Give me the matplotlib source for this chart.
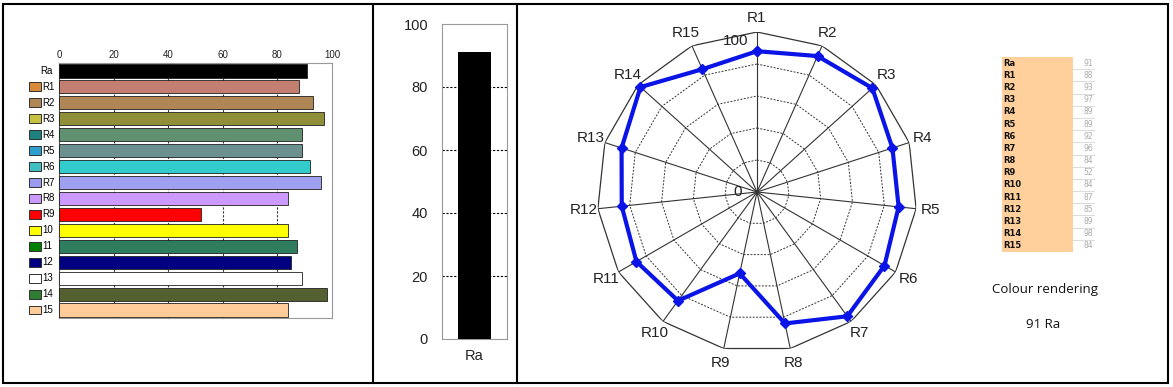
import matplotlib
matplotlib.use("Agg")
import matplotlib.pyplot as plt
import numpy as np
from matplotlib.patches import Rectangle
from matplotlib.lines import Line2D

# --- data ---
labels = ["Ra", "R1", "R2", "R3", "R4", "R5", "R6", "R7", "R8",
          "R9", "R10", "R11", "R12", "R13", "R14", "R15"]
bar_labels = ["Ra", "R1", "R2", "R3", "R4", "R5", "R6", "R7", "R8",
              "R9", "10", "11", "12", "13", "14", "15"]
values = [91, 88, 93, 97, 89, 89, 92, 96, 84, 52, 84, 87, 85, 89, 98, 84]
ra_value = 91

bar_colors = ["#000000", "#c27f70", "#b08656", "#8f8f3a", "#5f9070", "#6a9090",
              "#33cccc", "#a0a0f0", "#cc99ff", "#ff0000", "#ffff00", "#2e7d5e",
              "#000080", "#ffffff", "#556030", "#ffcc99"]
key_colors = [None, "#d9893c", "#b08656", "#c8c040", "#1f8080", "#2f9fd0",
              "#40c0c0", "#9a9af0", "#cc99ff", "#ff0000", "#ffff00", "#008000",
              "#000080", "#ffffff", "#2e7d32", "#ffcc99"]

narrow = ["Liberation Sans", "DejaVu Sans"]
W, H = 1173, 387


def box(x0, y0, x1, y1):
    # pixel box (top-left origin) -> figure fraction rect
    return [x0 / W, 1 - y1 / H, (x1 - x0) / W, (y1 - y0) / H]


fig = plt.figure(figsize=(W / 100, H / 100), dpi=100)

# panel borders
fig.add_artist(Rectangle((3 / W, 1 - 383 / H), 1165 / W, 379 / H,
                         transform=fig.transFigure, fill=False, lw=1.5, ec="black"))
for xd in [373, 517]:
    fig.add_artist(Line2D([xd / W, xd / W], [1 - 383 / H, 1 - 4 / H],
                          transform=fig.transFigure, lw=1.5, color="black"))

# --- left: horizontal bars ---
ax1 = fig.add_axes(box(59, 63, 332, 318))
y = np.arange(len(values))
ax1.barh(y, values, height=0.82, color=bar_colors, edgecolor="#202020", lw=0.6, zorder=3)
ax1.set_xlim(0, 100)
ax1.set_ylim(len(values) - 0.5, -0.5)
ax1.xaxis.tick_top()
ax1.set_xticks([0, 20, 40, 60, 80, 100])
ax1.tick_params(axis="x", length=0, pad=2, labelsize=7, labelcolor="#222222")
ax1.set_yticks([])
for lbl in ax1.get_xticklabels():
    lbl.set_fontfamily(narrow)
for xv in [20, 40, 60, 80]:
    ax1.axvline(xv, color="#333333", lw=0.8, ls=(0, (2, 1.5)), zorder=1)
for s in ax1.spines.values():
    s.set_color("#999999")
ax1.spines["left"].set_color("#555555")
trans = ax1.get_yaxis_transform()
for i, (lab, kc) in enumerate(zip(bar_labels, key_colors)):
    if kc is None:
        ax1.text(-0.025, i, lab, transform=trans, ha="right", va="center",
                 fontsize=7, family=narrow)
        continue
    ax1.add_patch(Rectangle((-0.11, i - 0.28), 0.044, 0.56, transform=trans,
                            fc=kc, ec="#303030", lw=0.7, clip_on=False))
    ax1.text(-0.06, i, lab, transform=trans, ha="left", va="center",
             fontsize=7, family=narrow)

# --- middle: Ra bar ---
ax2 = fig.add_axes(box(442, 24, 507, 339))
ax2.bar([0], [ra_value], width=0.51, color="black", zorder=3)
ax2.set_xlim(-0.5, 0.5)
ax2.set_ylim(0, 100)
ax2.set_yticks([0, 20, 40, 60, 80, 100])
ax2.set_xticks([0])
ax2.set_xticklabels(["Ra"])
ax2.tick_params(length=0, labelsize=10.5, pad=10, labelcolor="#222222")
ax2.tick_params(axis="x", pad=7)
for lbl in ax2.get_xticklabels() + ax2.get_yticklabels():
    lbl.set_fontfamily(narrow)
for yv in [20, 40, 60, 80]:
    ax2.axhline(yv, color="black", lw=0.8, ls=(0, (2, 1.5)), zorder=1)
for s in ax2.spines.values():
    s.set_color("#999999")

# --- radar ---
radar_labels = labels[1:]
radar_vals = values[1:]
n = len(radar_labels)
theta = np.arange(n) * 2 * np.pi / n
tc = np.append(theta, theta[0])
ax3 = fig.add_axes(box(597, 32, 917, 352), projection="polar")
ax3.set_theta_zero_location("N")
ax3.set_theta_direction(-1)
ax3.set_ylim(0, 100)
ax3.grid(False)
ax3.set_xticks([])
ax3.set_yticks([])
ax3.spines["polar"].set_visible(False)
ax3.patch.set_visible(False)
for r in [20, 40, 60, 80]:
    ax3.plot(tc, [r] * (n + 1), color="#333333", lw=0.7, ls=(0, (2, 1.5)))
ax3.plot(tc, [100] * (n + 1), color="#333333", lw=0.9)
for t in theta:
    ax3.plot([t, t], [0, 100], color="#333333", lw=0.8)
ax3.plot(tc, radar_vals + radar_vals[:1], color="#0a14e6", lw=3, marker="D",
         ms=5.5, clip_on=False, zorder=5)
for t, lab in zip(theta, radar_labels):
    ax3.text(t, 109, lab, ha="center", va="center", fontsize=11, family=narrow,
             color="#222222")
ax3.text(np.deg2rad(-8), 95, "100", ha="center", va="center", fontsize=11,
         family=narrow, color="#222222")
ax3.text(np.deg2rad(-90), 12, "0", ha="center", va="center", fontsize=11,
         family=narrow, color="#222222")

# --- table ---
ax4 = fig.add_axes(box(1002, 57, 1095, 252))
ax4.set_xlim(0, 93)
ax4.set_ylim(len(labels), 0)
ax4.axis("off")
ax4.barh(np.arange(len(labels)) + 0.5, [71] * len(labels), height=1.0,
         color="#ffd09c", lw=0)
for i, (lab, v) in enumerate(zip(labels, values)):
    ax4.text(1.5, i + 0.5, lab, ha="left", va="center", fontsize=6,
             fontweight="bold", color="#111111")
    ax4.text(91, i + 0.5, str(v), ha="right", va="center", fontsize=5.5,
             color="#aaaaaa")
    ax4.plot([71, 93], [i + 1, i + 1], color="#dddddd", lw=0.8)
fig.text(1045 / W, 1 - 289 / H, "Colour rendering", ha="center", va="center",
         fontsize=9.5, family="Open Sans", color="#111111")
fig.text(1043 / W, 1 - 324 / H, "%d Ra" % ra_value, ha="center", va="center",
         fontsize=9.5, family="Open Sans", color="#111111")

fig.savefig("out.png", dpi=100)
